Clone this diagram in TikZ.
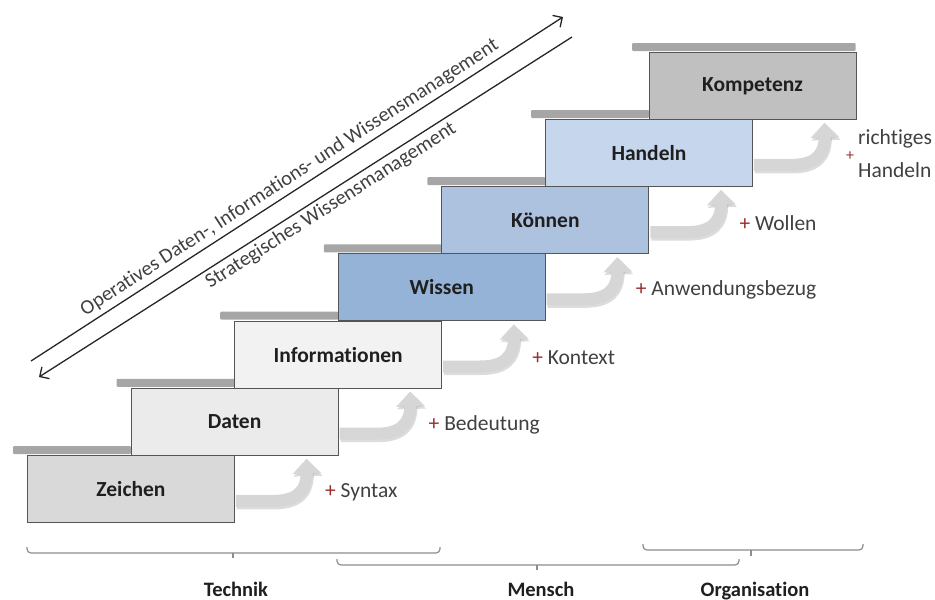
\documentclass[tikz,border=0pt]{standalone}
\usepackage{fontspec}
\setmainfont{Carlito}[Ligatures={NoCommon}]
\usetikzlibrary{arrows.meta,calc}
\definecolor{boxborder}{HTML}{555555}
\definecolor{ledgegray}{HTML}{A6A6A6}
\definecolor{flowgray}{HTML}{D6D6D6}
\definecolor{flowshade}{HTML}{9A9A9A}
\definecolor{plusred}{HTML}{9B2D30}
\definecolor{labelgray}{HTML}{404040}
\definecolor{diaggray}{HTML}{262626}
\definecolor{bracegray}{HTML}{8C8C8C}
\definecolor{cZeichen}{HTML}{D9D9D9}
\definecolor{cDaten}{HTML}{EBEBEB}
\definecolor{cInfo}{HTML}{F2F2F2}
\definecolor{cWissen}{HTML}{95B3D7}
\definecolor{cKoennen}{HTML}{ADC2DF}
\definecolor{cHandeln}{HTML}{C6D6EC}
\definecolor{cKompetenz}{HTML}{C0C0C0}
\tikzset{
  stepbox/.style={draw=boxborder, line width=0.9pt, minimum width=207pt, minimum height=67pt,
    anchor=north west, inner sep=0pt, font=\fontsize{21.5}{25}\selectfont\bfseries, text=black!88},
  ledge/.style={fill=ledgegray, rounded corners=1pt},
  flow/.style={line width=12pt, draw=flowgray, -{Triangle[width=28pt,length=15pt]}},
  flowshadow/.style={line width=12pt, draw=flowshade, opacity=0.35, -{Triangle[width=28pt,length=15pt]}},
  addlabel/.style={anchor=west, inner sep=0pt, font=\fontsize{21.5}{25}\selectfont, text=labelgray},
  diagline/.style={draw=diaggray, line width=1.3pt},
  diagtext/.style={font=\fontsize{20.5}{24}\selectfont, text=labelgray, inner sep=1pt},
  bracket/.style={draw=bracegray, line width=1.2pt, rounded corners=4pt},
  tick/.style={draw=bracegray, line width=1.2pt},
  grouplabel/.style={anchor=base, inner sep=0pt, font=\fontsize{20.5}{24}\selectfont\bfseries, text=black!88},
}
\begin{document}
\begin{tikzpicture}[x=1pt,y={(0pt,-1pt)}]
\useasboundingbox (0,0) rectangle (935,600);

% ledges (grey bars above each step)
\fill[ledge] (13,446) rectangle (131,454);
\fill[ledge] (116.6,378.8) rectangle (234.6,386.8);
\fill[ledge] (220.2,311.6) rectangle (338.2,319.6);
\fill[ledge] (323.8,244.4) rectangle (441.8,252.4);
\fill[ledge] (427.4,177.2) rectangle (545.4,185.2);
\fill[ledge] (531,110) rectangle (649,118);
\fill[ledge] (632,43) rectangle (855.6,51);

% steps
\node[stepbox, fill=cZeichen]   (z0) at (27,455)     {Zeichen};
\node[stepbox, fill=cDaten]     (z1) at (130.6,387.8) {Daten};
\node[stepbox, fill=cInfo]      (z2) at (234.2,320.6) {Informationen};
\node[stepbox, fill=cWissen]    (z3) at (337.8,253.4) {Wissen};
\node[stepbox, fill=cKoennen]   (z4) at (441.4,186.2) {Können};
\node[stepbox, fill=cHandeln]   (z5) at (545,119)     {Handeln};
\node[stepbox, fill=cKompetenz] (z6) at (648.6,51.8)  {Kompetenz};

% curved arrows between steps
\foreach \i [evaluate=\i as \j using int(\i+1)] in {0,...,5}{
  \coordinate (s\i) at ([xshift=1pt,yshift=22pt]z\i.south east);
  \coordinate (t\i) at ([xshift=72pt,yshift=-3pt]z\j.south);
  \begin{scope}[transform canvas={xshift=1pt,yshift=-2.5pt}]
    \draw[flowshadow] (s\i) -- ($(s\i)+(37,0)$) .. controls ($(s\i)+(61,0)$) and ($(s\i)+(71,-10)$) .. ($(s\i)+(71,-30)$) -- (t\i);
  \end{scope}
  \draw[flow] (s\i) -- ($(s\i)+(37,0)$) .. controls ($(s\i)+(61,0)$) and ($(s\i)+(71,-10)$) .. ($(s\i)+(71,-30)$) -- (t\i);
}

% additions
\node[addlabel] (l0) at ([xshift=90pt,yshift=31pt]z0.south east) {{\color{plusred}+} Syntax};
\node[addlabel] (l1) at ([xshift=90pt,yshift=31pt]z1.south east) {{\color{plusred}+} Bedeutung};
\node[addlabel] (l2) at ([xshift=90pt,yshift=31pt]z2.south east) {{\color{plusred}+} Kontext};
\node[addlabel] (l3) at ([xshift=90pt,yshift=31pt]z3.south east) {{\color{plusred}+} Anwendungsbezug};
\node[addlabel] (l4) at ([xshift=90pt,yshift=31pt]z4.south east) {{\color{plusred}+} Wollen};
\node[addlabel, text=plusred, font=\fontsize{16}{20}\selectfont] (l5) at ([xshift=93pt,yshift=31pt]z5.south east) {+};
\node[addlabel] (l6a) at (858,139) {richtiges};
\node[addlabel] (l6b) at (858,170) {Handeln};

% diagonal arrows
\coordinate (a1) at (31,361);
\coordinate (a2) at (563,17);
\coordinate (b1) at (39,377);
\coordinate (b2) at (572,37);
\draw[diagline, -{Straight Barb[length=7pt,width=14pt,line width=1.3pt]}] (a1) -- (a2)
  node[diagtext, pos=0.5, sloped, above=3pt] (ta) {Operatives Daten-, Informations- und Wissensmanagement};
\draw[diagline, {Straight Barb[length=7pt,width=14pt,line width=1.3pt]}-] (b1) -- (b2)
  node[diagtext, pos=0.535, sloped, below=2pt] (tb) {Strategisches Wissensmanagement};

% brackets
\draw[bracket] (27,547) -- (27,553) -- (440,553) -- (440,547);
\draw[tick] (233,553) -- (233,557.5);
\draw[bracket] (337,559) -- (337,565) -- (739,565) -- (739,559);
\draw[tick] (537,565) -- (537,570);
\draw[bracket] (643,544) -- (643,550) -- (863,550) -- (863,544);
\draw[tick] (751,550) -- (751,556);

\node[grouplabel] (g1) at (236,596) {Technik};
\node[grouplabel] (g2) at (541,596) {Mensch};
\node[grouplabel] (g3) at (755,596) {Organisation};
\end{tikzpicture}
\end{document}
